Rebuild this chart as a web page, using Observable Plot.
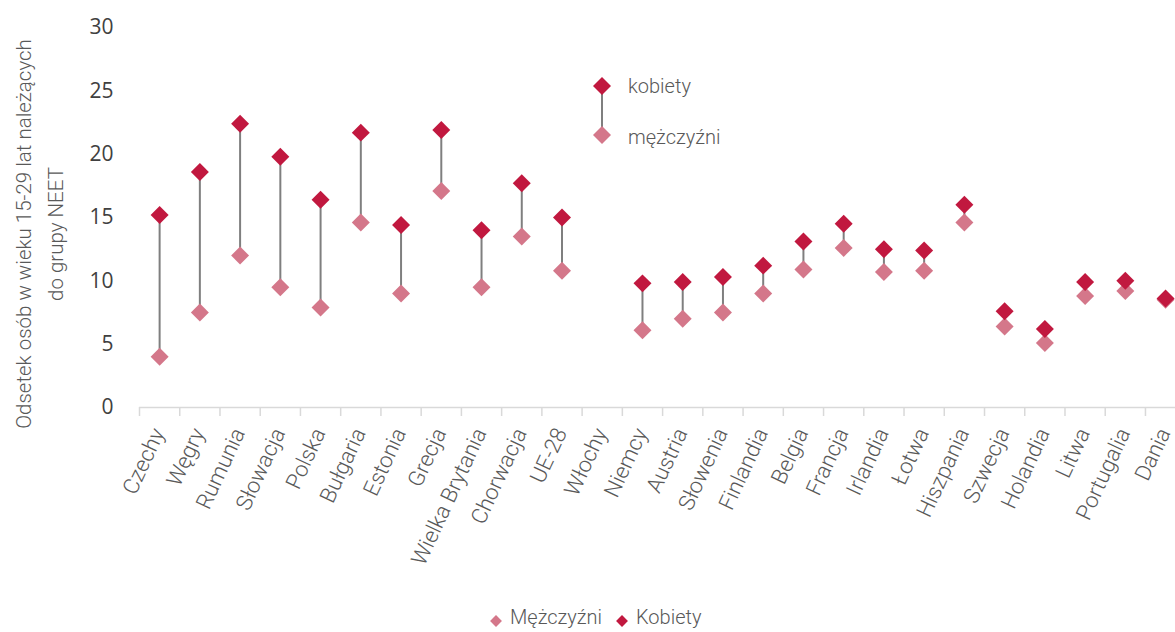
<!DOCTYPE html>
<html>
<head>
<meta charset="utf-8">
<script src="https://cdn.jsdelivr.net/npm/d3@7"></script>
<script src="https://cdn.jsdelivr.net/npm/@observablehq/plot@0.6"></script>
<style>
  html, body { margin: 0; padding: 0; background: #fff; }
  #wrap { position: relative; width: 1175px; height: 632px; overflow: hidden; font-family: Roboto, sans-serif; }
  #chart svg { display: block; }
  #ytitle { position: absolute; left: 40px; top: 234px; width: 0; height: 0; }
  #ytitle div { position: absolute; transform: translate(-50%, -50%) rotate(-90deg); white-space: nowrap; text-align: center;
    font-family: Roboto, sans-serif; font-weight: 300; font-size: 20.5px; line-height: 32px; color: #595959; }
  #inlegend { position: absolute; left: 590px; top: 70px; width: 160px; height: 90px; }
  #inlegend span { position: absolute; left: 38px; font-family: Roboto, sans-serif; font-weight: 300; font-size: 20px; color: #595959; line-height: 24px; }
  #botlegend { position: absolute; left: 0; top: 603px; width: 1175px; height: 29px; }
  #botlegend span { position: absolute; top: 2px; font-family: Roboto, sans-serif; font-weight: 300; font-size: 20px; color: #595959; line-height: 24px; }
</style>
</head>
<body>
<div id="wrap">
  <div id="chart"></div>
  <div id="ytitle"><div>Odsetek osób w wieku 15-29 lat należących<br>do grupy NEET</div></div>
  <div id="inlegend"></div>
  <div id="botlegend"></div>
</div>
<script>
const countries = ["Czechy","Węgry","Rumunia","Słowacja","Polska","Bułgaria","Estonia","Grecja","Wielka Brytania","Chorwacja","UE-28","Włochy","Niemcy","Austria","Słowenia","Finlandia","Belgia","Francja","Irlandia","Łotwa","Hiszpania","Szwecja","Holandia","Litwa","Portugalia","Dania"];
const kobiety = [15.2, 18.6, 22.4, 19.8, 16.4, 21.7, 14.4, 21.9, 14.0, 17.7, 15.0, null, 9.8, 9.9, 10.3, 11.2, 13.1, 14.5, 12.5, 12.4, 16.0, 7.6, 6.2, 9.9, 10.0, 8.6];
const mezczyzni = [4.0, 7.5, 12.0, 9.5, 7.9, 14.6, 9.0, 17.1, 9.5, 13.5, 10.8, null, 6.1, 7.0, 7.5, 9.0, 10.9, 12.6, 10.7, 10.8, 14.6, 6.4, 5.1, 8.8, 9.2, 8.5];
const yTicks = [0, 5, 10, 15, 20, 25, 30];
const seriesNames = ["Mężczyźni", "Kobiety"];
const inLegendNames = ["kobiety", "mężczyźni"];

const colorK = "#C1183F";
const colorM = "#D4778A";
const gray = "#7F7F7F";

const data = countries.map((c, i) => ({country: c, k: kobiety[i], m: mezczyzni[i]})).filter(d => d.k != null && d.m != null);

const xRange = [139, 1185.2];
const band = (xRange[1] - xRange[0]) / countries.length;

const chart = Plot.plot({
  width: 1175,
  height: 603,
  marginTop: 27,
  marginBottom: 196,
  marginLeft: 139,
  marginRight: 0,
  style: {fontFamily: "Roboto, sans-serif", background: "#fff", overflow: "hidden"},
  x: {type: "band", domain: countries, range: xRange, padding: 0, round: false},
  y: {domain: [0, 30]},
  marks: [
    Plot.ruleY([0], {stroke: "#D9D9D9", strokeWidth: 1.5}),
    Plot.axisX({ticks: countries, tickSize: 9, tickFormat: () => "", dx: -band / 2, stroke: "#D9D9D9", strokeWidth: 1.5, label: null}),
    Plot.axisX({ticks: countries, tickSize: 0, tickPadding: 22, tickRotate: -65, fontSize: 22, fontWeight: 300, fill: "#595959", label: null, dx: -1}),
    Plot.axisY({ticks: yTicks, tickSize: 0, tickPadding: 26, fontSize: 21, fontFamily: "Open Sans", fill: "#404040", label: null}),
    Plot.ruleX(data, {x: "country", y1: "m", y2: "k", stroke: gray, strokeWidth: 2}),
    Plot.dot(data, {x: "country", y: "m", symbol: "diamond2", r: 8.1, fill: colorM, stroke: null}),
    Plot.dot(data, {x: "country", y: "k", symbol: "diamond2", r: 8.1, fill: colorK, stroke: null})
  ]
});
document.getElementById("chart").appendChild(chart);

// in-chart legend
const inL = d3.select("#inlegend");
const s1 = inL.append("svg").attr("width", 30).attr("height", 90).style("position", "absolute").style("left", "0px").style("top", "0px");
s1.append("line").attr("x1", 12).attr("x2", 12).attr("y1", 16).attr("y2", 65).attr("stroke", gray).attr("stroke-width", 2);
s1.append("path").attr("d", d3.symbol(d3.symbolDiamond2, 206)()).attr("transform", "translate(12,16)").attr("fill", colorK);
s1.append("path").attr("d", d3.symbol(d3.symbolDiamond2, 206)()).attr("transform", "translate(12,65)").attr("fill", colorM);
inL.append("span").style("top", "4px").text(inLegendNames[0]);
inL.append("span").style("top", "55px").text(inLegendNames[1]);

// bottom legend
const bl = d3.select("#botlegend");
const items = [{name: seriesNames[0], color: colorM, x: 488}, {name: seriesNames[1], color: colorK, x: 614}];
items.forEach(it => {
  const s = bl.append("svg").attr("width", 16).attr("height", 16).style("position", "absolute").style("left", it.x + "px").style("top", "10px");
  s.append("path").attr("d", d3.symbol(d3.symbolDiamond2, 90)()).attr("transform", "translate(8,8)").attr("fill", it.color);
  bl.append("span").style("left", (it.x + 22) + "px").text(it.name);
});
</script>
</body>
</html>
